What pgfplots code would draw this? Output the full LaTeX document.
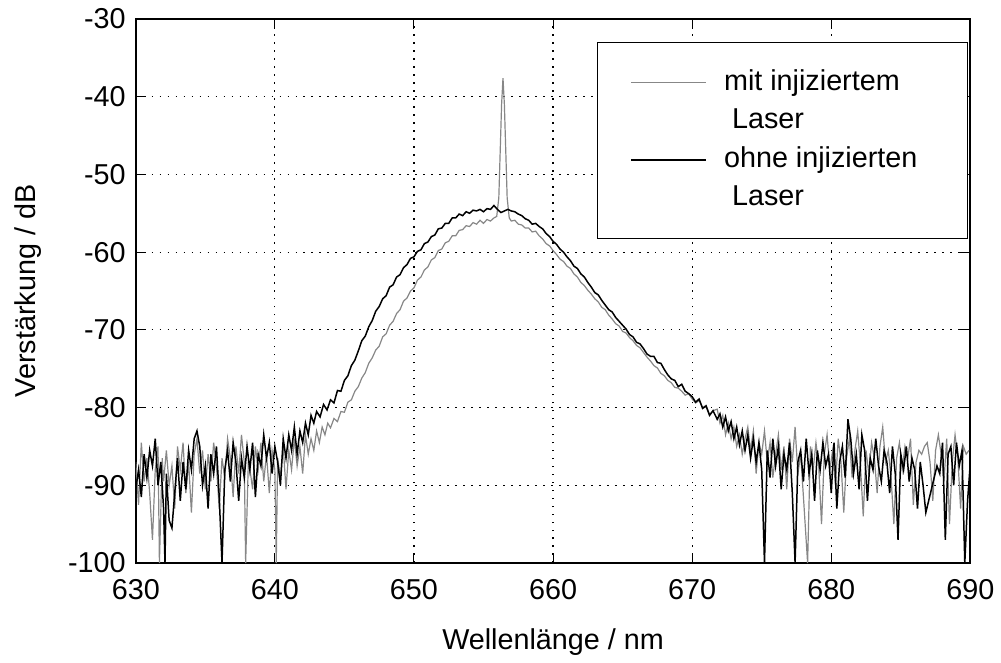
\documentclass[border=0pt]{standalone}
\usepackage{pgfplots}
\pgfplotsset{compat=1.18}
\usepackage{fontspec}
\setmainfont{Liberation Sans}
\definecolor{mitgray}{RGB}{135,135,135}

\begin{document}
\begin{tikzpicture}
\begin{axis}[
  name=ax, scale only axis,
  width=418pt, height=272.5pt,
  xmin=630, xmax=690, ymin=-100, ymax=-30,
  xtick={630,640,...,690}, ytick={-100,-90,...,-30},
  tick align=inside, major tick length=5pt,
  tick style={black, line width=0.5pt},
  axis line style={line width=0.9pt},
  grid=major,
  grid style={black, line width=0.6pt, dash pattern=on 0.8pt off 3.2pt},
  font=\fontsize{14.4}{18}\selectfont,
  /pgf/number format/assume math mode=true,
  yticklabel style={xshift=-1.5pt},
  xticklabel style={yshift=-4.5pt},
  xlabel={Wellenlänge / nm}, ylabel={Verstärkung / dB},
  xlabel style={at={(axis description cs:0.5,-0.145)}, anchor=center},
  ylabel style={at={(axis description cs:-0.129,0.5)}, anchor=center},
  legend style={at={(axis description cs:0.9976,0.958)}, anchor=north east,
    draw=black, line width=0.7pt, inner xsep=13pt, inner ysep=10.5pt,
    nodes={inner xsep=4.5pt, inner ysep=2.9pt, text height=10.5pt, text depth=3pt},
    font=\fontsize{14.4}{18}\selectfont},
  legend cell align=left,
  legend image code/.code={\path (0pt,0pt) (45pt,0pt);
    \draw[#1] (3.5pt,0pt) -- (41pt,0pt);},
]
% mit injiziertem Laser
\addplot[mitgray, line width=0.6pt] coordinates {
(630.0,-87.0) (630.2,-92.5) (630.4,-84.5) (630.6,-89.5) (630.8,-86.5) (631.0,-91.0)
(631.2,-97.0) (631.4,-88.0) (631.6,-85.0) (631.7,-100) (631.9,-86.5) (632.0,-89.5)
(632.2,-85.5) (632.4,-90.0) (632.6,-87.5) (632.8,-93.0) (633.0,-85.0) (633.2,-88.0)
(633.4,-84.5) (633.6,-91.0) (633.8,-87.0) (634.0,-93.5) (634.2,-86.0) (634.4,-84.0)
(634.6,-88.5) (634.8,-85.5) (635.0,-90.5) (635.2,-86.0) (635.4,-89.5) (635.6,-84.5)
(635.8,-87.5) (636.0,-93.0) (636.2,-86.5) (636.4,-89.0) (636.6,-84.0) (636.8,-86.5)
(637.0,-91.5) (637.2,-85.0) (637.4,-88.5) (637.6,-83.5) (637.8,-87.0) (637.9,-100)
(638.1,-86.5) (638.4,-90.5) (638.6,-85.0) (638.8,-88.0) (639.0,-84.5) (639.2,-89.5)
(639.4,-86.0) (639.6,-91.0) (639.8,-85.5) (640.0,-88.0) (640.1,-100) (640.2,-86.5)
(640.4,-89.0) (640.6,-85.0) (640.8,-90.5) (641.0,-85.5) (641.2,-88.0) (641.4,-84.0)
(641.6,-87.5) (641.8,-85.0) (642.0,-88.5) (642.2,-83.5) (642.4,-86.0) (642.6,-84.0)
(642.8,-85.5) (643.0,-83.0) (643.2,-84.5) (643.4,-82.5) (643.6,-83.5) (643.8,-82.0)
(644.0,-82.6) (644.25,-81.4) (644.5,-81.8) (644.75,-80.5) (645.0,-80.6) (645.25,-79.3)
(645.5,-79.0) (645.75,-77.9) (646.0,-77.3) (646.25,-76.2) (646.5,-75.5) (646.75,-74.3)
(647.0,-73.6) (647.25,-72.6) (647.5,-72.1) (647.75,-70.9) (648.0,-70.5) (648.25,-69.4)
(648.5,-68.9) (648.75,-67.9) (649.0,-67.4) (649.25,-66.3) (649.5,-65.9) (649.75,-65.0)
(650.0,-64.6) (650.25,-63.6) (650.5,-63.2) (650.75,-62.3) (651.0,-61.9) (651.25,-61.0)
(651.5,-60.7) (651.75,-59.8) (652.0,-59.6) (652.25,-58.8) (652.5,-58.6) (652.75,-57.9)
(653.0,-57.9) (653.25,-57.2) (653.5,-57.1) (653.75,-56.6) (654.0,-56.7) (654.25,-56.2)
(654.5,-56.4) (654.75,-55.9) (655.0,-56.3) (655.25,-55.8) (655.5,-56.0) (655.75,-55.6)
(655.95,-55.4) (656.1,-53.0) (656.3,-41.0) (656.4,-37.6) (656.5,-41.0) (656.7,-53.0)
(656.85,-55.6) (657.0,-56.0) (657.25,-55.9) (657.5,-56.4) (657.75,-56.5) (658.0,-56.9)
(658.25,-56.9) (658.5,-57.4) (658.75,-57.3) (659.0,-57.9) (659.25,-58.3) (659.5,-58.9)
(659.75,-59.2) (660.0,-59.8) (660.25,-60.3) (660.5,-60.9) (660.75,-61.2) (661.0,-61.8)
(661.25,-62.1) (661.5,-62.8) (661.75,-63.2) (662.0,-63.9) (662.25,-64.3) (662.5,-64.9)
(662.75,-65.4) (663.0,-66.0) (663.25,-66.4) (663.5,-67.1) (663.75,-67.4) (664.0,-68.1)
(664.25,-68.6) (664.5,-69.2) (664.75,-69.5) (665.0,-70.2) (665.25,-70.4) (665.5,-71.0)
(665.75,-71.4) (666.0,-72.0) (666.25,-72.3) (666.5,-72.9) (666.75,-73.5) (667.0,-74.0)
(667.25,-74.6) (667.5,-74.9) (667.75,-75.6) (668.0,-75.9) (668.25,-76.5) (668.5,-76.8)
(668.75,-77.4) (669.0,-77.5) (669.25,-77.9) (669.5,-78.4) (669.75,-78.2) (670.0,-78.9)
(670.25,-79.4) (670.5,-79.1) (670.75,-80.0) (671.0,-79.7) (671.25,-80.9) (671.5,-80.4)
(671.8,-80.2) (672.0,-82.0) (672.2,-81.0) (672.4,-83.5) (672.6,-82.0)
(672.8,-84.0) (673.0,-82.5) (673.2,-85.0) (673.4,-83.5) (673.6,-86.0) (673.8,-84.0)
(674.0,-82.5) (674.2,-85.5) (674.4,-83.0) (674.6,-88.5) (674.8,-84.5) (675.0,-86.0)
(675.2,-83.0) (675.4,-87.0) (675.6,-84.5) (675.8,-89.0) (676.0,-86.0) (676.2,-83.5)
(676.4,-88.0) (676.6,-85.0) (676.8,-90.5) (677.0,-84.0) (677.2,-87.0) (677.4,-82.5)
(677.6,-88.5) (677.8,-86.0) (678.0,-91.5) (678.3,-100) (678.5,-85.0) (678.7,-88.0)
(678.9,-84.5) (679.1,-87.5) (679.3,-95.0) (679.5,-86.0) (679.7,-83.5) (679.9,-88.0)
(680.1,-85.5) (680.3,-90.0) (680.5,-84.0) (680.7,-87.0) (680.9,-93.5) (681.1,-86.5)
(681.3,-84.0) (681.5,-89.0) (681.7,-85.5) (681.9,-83.0) (682.1,-87.5) (682.3,-94.0)
(682.5,-85.5) (682.7,-88.5) (682.9,-84.5) (683.1,-86.5) (683.3,-91.0) (683.5,-85.0)
(683.7,-82.5) (683.9,-87.0) (684.1,-85.5) (684.3,-89.0) (684.5,-95.0) (684.7,-86.5)
(684.9,-84.5) (685.1,-88.0) (685.3,-85.0) (685.5,-86.5) (685.7,-84.0) (685.9,-92.5)
(686.1,-87.0) (686.3,-85.5) (686.5,-86.0) (686.7,-85.0) (686.9,-84.5) (687.1,-87.0)
(687.3,-92.0) (687.5,-85.5) (687.7,-83.5) (687.9,-86.0) (688.1,-89.5) (688.3,-84.0)
(688.5,-95.0) (688.7,-87.0) (688.9,-83.5) (689.1,-86.5) (689.3,-93.0) (689.5,-85.0)
(689.7,-86.0) (689.9,-85.5)
};
\addlegendentry{mit injiziertem}
\addlegendimage{empty legend}
\addlegendentry{\hspace*{4pt}Laser}
% ohne injizierten Laser
\addplot[black, line width=0.75pt] coordinates {
(630.0,-90.5) (630.2,-88.0) (630.4,-91.5) (630.6,-86.0) (630.8,-89.0) (631.0,-85.5)
(631.2,-87.5) (631.4,-84.0) (631.6,-90.0) (631.8,-87.0) (632.0,-93.0) (632.1,-100)
(632.2,-88.5) (632.4,-94.5) (632.6,-95.5) (632.8,-91.0) (633.0,-86.5) (633.2,-92.0)
(633.4,-87.0) (633.6,-90.5) (633.8,-85.5) (634.0,-88.0) (634.2,-84.0) (634.4,-83.0)
(634.6,-85.0) (634.8,-90.0) (635.0,-87.5) (635.2,-93.0) (635.4,-86.0) (635.6,-88.5)
(635.8,-85.0) (636.0,-91.5) (636.2,-100) (636.4,-88.0) (636.6,-85.5) (636.8,-89.5)
(637.0,-84.5) (637.2,-87.0) (637.4,-92.0) (637.6,-86.5) (637.8,-89.0) (638.0,-85.0)
(638.2,-88.0) (638.4,-84.5) (638.6,-91.5) (638.8,-86.0) (639.0,-87.5) (639.2,-83.5)
(639.4,-86.5) (639.6,-84.5) (639.8,-88.5) (640.0,-85.0) (640.2,-87.0) (640.4,-90.0)
(640.6,-84.0) (640.8,-86.5) (641.0,-83.5) (641.2,-85.5) (641.4,-82.5) (641.6,-86.0)
(641.8,-83.0) (642.0,-84.5) (642.2,-82.0) (642.4,-83.5) (642.6,-81.0) (642.8,-82.0)
(643.0,-80.5) (643.25,-81.2) (643.5,-79.6) (643.75,-80.3) (644.0,-79.0) (644.25,-79.4)
(644.5,-77.8) (644.75,-77.9) (645.0,-76.5) (645.25,-75.9) (645.5,-74.6) (645.75,-73.9)
(646.0,-72.7) (646.25,-71.4) (646.5,-70.8) (646.75,-69.6) (647.0,-68.8) (647.25,-67.6)
(647.5,-67.0) (647.75,-66.0) (648.0,-65.6) (648.25,-64.5) (648.5,-64.2) (648.75,-63.2)
(649.0,-62.9) (649.25,-62.0) (649.5,-61.6) (649.75,-60.8) (650.0,-60.6) (650.25,-59.9)
(650.5,-59.7) (650.75,-58.9) (651.0,-58.7) (651.25,-58.0) (651.5,-57.8) (651.75,-57.0)
(652.0,-56.9) (652.25,-56.3) (652.5,-56.3) (652.75,-55.6) (653.0,-55.6) (653.25,-55.1)
(653.5,-55.3) (653.75,-54.8) (654.0,-55.0) (654.25,-54.6) (654.5,-54.7) (654.75,-54.5)
(655.0,-54.8) (655.25,-54.4) (655.5,-54.5) (655.75,-54.0) (656.0,-54.5) (656.25,-54.9)
(656.5,-54.7) (656.75,-54.5) (657.0,-54.7) (657.25,-54.8) (657.5,-55.1) (657.75,-55.3)
(658.0,-55.7) (658.25,-55.9) (658.5,-56.4) (658.75,-56.3) (659.0,-56.7) (659.25,-57.0)
(659.5,-57.6) (659.75,-58.0) (660.0,-58.6) (660.25,-59.0) (660.5,-59.6) (660.75,-60.0)
(661.0,-60.6) (661.25,-61.1) (661.5,-61.8) (661.75,-62.1) (662.0,-62.8) (662.25,-63.2)
(662.5,-63.9) (662.75,-64.5) (663.0,-65.2) (663.25,-65.5) (663.5,-66.2) (663.75,-66.8)
(664.0,-67.4) (664.25,-67.7) (664.5,-68.4) (664.75,-68.9) (665.0,-69.4) (665.25,-69.9)
(665.5,-70.6) (665.75,-70.9) (666.0,-71.6) (666.25,-71.8) (666.5,-72.4) (666.75,-73.1)
(667.0,-73.4) (667.25,-73.4) (667.5,-74.2) (667.75,-74.3) (668.0,-75.1) (668.25,-75.8)
(668.5,-76.3) (668.75,-76.5) (669.0,-77.3) (669.25,-77.0) (669.5,-77.9) (669.75,-78.2)
(670.0,-78.6) (670.25,-79.3) (670.5,-78.9) (670.75,-80.1) (671.0,-79.8) (671.25,-81.0)
(671.5,-80.4) (671.8,-81.5)
(672.0,-80.8) (672.2,-82.5) (672.4,-81.2) (672.6,-83.0) (672.8,-81.8) (673.0,-84.0)
(673.2,-82.5) (673.4,-84.8) (673.6,-83.0) (673.8,-85.5) (674.0,-83.5) (674.2,-86.5)
(674.4,-84.0) (674.6,-87.0) (674.8,-84.5) (675.0,-88.0) (675.2,-100) (675.4,-85.5)
(675.6,-89.0) (675.8,-84.0) (676.0,-87.5) (676.2,-85.0) (676.4,-90.5) (676.6,-86.0)
(676.8,-88.0) (677.0,-84.5) (677.2,-91.0) (677.4,-100) (677.6,-87.0) (677.8,-85.5)
(678.0,-89.5) (678.2,-84.0) (678.4,-88.5) (678.6,-86.0) (678.8,-92.0) (679.0,-85.5)
(679.2,-88.0) (679.4,-84.5) (679.6,-87.5) (679.8,-86.0) (680.0,-91.0) (680.2,-84.5)
(680.4,-93.0) (680.6,-87.0) (680.8,-85.0) (681.0,-89.0) (681.2,-81.5) (681.4,-84.0)
(681.6,-88.5) (681.8,-86.0) (682.0,-90.5) (682.2,-83.5) (682.4,-85.5) (682.6,-92.0)
(682.8,-86.5) (683.0,-88.0) (683.2,-84.0) (683.4,-87.5) (683.6,-89.5) (683.8,-85.5)
(684.0,-87.0) (684.2,-91.0) (684.4,-85.0) (684.6,-88.5) (684.8,-97.0) (685.0,-86.0)
(685.2,-88.0) (685.4,-85.0) (685.6,-89.5) (685.8,-86.5) (686.0,-88.0) (686.2,-93.0)
(686.4,-87.0) (686.6,-90.0) (686.8,-93.5) (687.0,-92.0) (687.2,-90.5) (687.4,-89.0)
(687.6,-87.5) (687.8,-88.5) (688.0,-84.5) (688.2,-97.0) (688.4,-86.0) (688.6,-85.0)
(688.8,-90.0) (689.0,-84.5) (689.2,-87.5) (689.4,-85.5) (689.6,-100) (689.8,-92.0)
(690.0,-87.0)
};
\addlegendentry{\makebox[104.5pt][l]{ohne injizierten}}
\addlegendimage{empty legend}
\addlegendentry{\hspace*{4pt}Laser}
\end{axis}
\path ([shift={(-68pt,-45pt)}]ax.south west) rectangle ([shift={(14.5pt,9.5pt)}]ax.north east);
\end{tikzpicture}
\end{document}
